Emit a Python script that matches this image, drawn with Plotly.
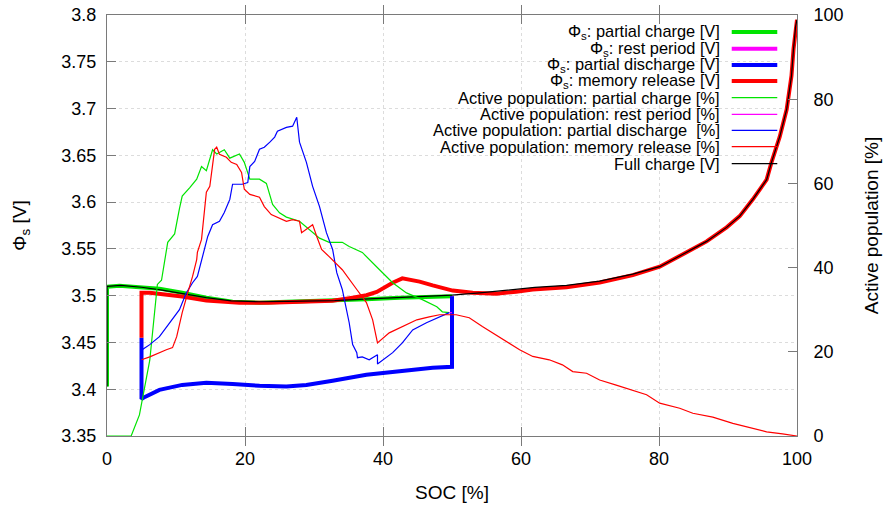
import plotly.graph_objects as go

# ---------------- data ----------------
# Phi_s partial charge [V]
pc_soc = [0, 0, 1.8, 4.7, 7.6, 10.9, 14.4, 18.2, 22.1, 26.0, 32.7, 37.6, 42.4, 47.2, 50.0]
pc_v = [3.403, 3.5096, 3.5107, 3.5096, 3.5075, 3.5032, 3.4979, 3.4936, 3.4925, 3.4936,
        3.4946, 3.4962, 3.4978, 3.4989, 3.4993]

# Phi_s rest period [V]
rp_soc = [50.0, 50.0]
rp_v = [3.4993, 3.4985]

# Phi_s partial discharge [V]
pd_soc = [50.0, 50.0, 47.2, 42.4, 37.6, 32.7, 28.9, 26.0, 22.1, 18.2, 14.4, 10.9, 7.6, 5.5, 5.0, 5.0]
pd_v = [3.4993, 3.4239, 3.4229, 3.4196, 3.4154, 3.4090, 3.4046, 3.4030, 3.4036, 3.4057,
        3.4068, 3.4046, 3.3993, 3.3918, 3.3896, 3.4550]

# Phi_s memory release [V]
mr_soc = [5.0, 5.0, 6.2, 10.9, 14.4, 19.2, 23.4, 27.9, 32.7, 35.6, 37.6, 39.1, 41.4, 42.8,
          45.3, 47.2, 50.1, 53.0, 56.4, 59.3, 61.7, 66.6, 71.4, 76.2, 80.1, 83.4, 86.9,
          89.8, 91.7, 93.6, 95.6, 96.3, 97.5, 98.5, 99.2, 99.5, 99.8, 100.0]
mr_v = [3.4550, 3.5032, 3.5032, 3.4990, 3.4947, 3.4925, 3.4925, 3.4936, 3.4946, 3.4979,
        3.5005, 3.5040, 3.5139, 3.5185, 3.5150, 3.5110, 3.5054, 3.5030, 3.5021, 3.5043,
        3.5065, 3.5090, 3.5140, 3.5220, 3.5310, 3.5440, 3.5580, 3.5730, 3.5850, 3.6030,
        3.6240, 3.6425, 3.6700, 3.6990, 3.7350, 3.7640, 3.7880, 3.7950]

# Active population: partial charge [%]
apc_soc = [0, 3.5, 4.7, 6.2, 7.3, 7.9, 8.8, 9.8, 10.5, 10.9, 12.0, 13.0, 13.7, 14.4, 15.3,
           15.9, 17.0, 17.8, 19.2, 19.9, 20.7, 22.1, 23.1, 24.0, 25.0, 26.0, 27.9, 29.3,
           30.8, 32.2, 34.1, 35.1, 37.0, 39.5, 41.4, 43.4, 45.7, 47.8, 48.6, 49.6]
apc_p = [0, 0, 5, 18, 36, 37, 46, 48, 54, 57, 59, 61, 64, 63, 68, 67, 68, 66, 67, 65, 61,
         61, 60, 55, 53, 52, 51, 49, 47, 46, 46, 45, 43.6, 39.5, 36.4, 34, 32.4, 30.7,
         29.5, 29.3]

# Active population: rest period [%]
arp_soc = [49.6, 50.0]
arp_p = [29.3, 29.3]

# Active population: partial discharge [%]
apd_soc = [49.6, 48.2, 46.3, 44.3, 42.8, 41.4, 39.9, 39.2, 39.2, 38.0, 37.0, 36.3, 36.2,
           35.6, 35.1, 34.7, 34.1, 33.3, 32.7, 31.8, 30.8, 29.8, 28.9, 27.9, 27.6, 27.5,
           26.9, 26.0, 24.7, 24.3, 23.6, 22.8, 22.1, 21.4, 20.7, 20.4, 19.6, 18.2, 17.8,
           17.0, 16.3, 15.3, 14.6, 13.8, 13.1, 12.4, 11.5, 10.5, 9.1, 7.6, 6.2, 5.1, 5.0]
apd_p = [29.3, 28.3, 26.9, 25.2, 22.1, 19.8, 18.1, 17.1, 19.3, 18.1, 18.8, 18.6, 19.8,
         21.7, 26.9, 30.0, 34.8, 38.8, 44.3, 48.3, 54.5, 59.3, 65.0, 69.8, 75.2, 75.7,
         73.6, 73.3, 72.4, 71.0, 69.8, 68.6, 68.1, 65.2, 64.0, 60.2, 59.8, 59.8, 56.2,
         53.1, 51.0, 50.2, 47.4, 42.6, 37.9, 36.4, 34.0, 30.0, 26.9, 23.6, 21.7, 20.5, 18.8]

# Active population: memory release [%]
amr_soc = [5.0, 6.2, 8.6, 9.5, 10.1, 10.9, 11.7, 12.4, 13.0, 13.1, 13.7, 14.4, 14.9, 15.6,
           15.9, 16.3, 17.3, 18.0, 18.8, 19.5, 19.9, 20.7, 22.1, 22.8, 23.8, 24.7, 26.0,
           26.9, 27.9, 28.2, 29.8, 30.4, 31.1, 32.2, 34.1, 36.2, 37.6, 38.5, 39.2, 40.9,
           42.8, 44.9, 46.7, 48.2, 50.6, 52.5, 54.4, 56.9, 58.3, 59.8, 61.7, 64.1, 66.0,
           67.5, 69.5, 71.4, 73.8, 76.2, 78.2, 80.1, 83.0, 84.9, 87.8, 90.7, 93.6, 95.6,
           97.9, 99.7, 100.0]
amr_p = [18.1, 18.8, 20.5, 21.0, 23.6, 29.3, 34.0, 37.9, 41.9, 43.6, 46.7, 57.9, 59.3,
         68.1, 68.6, 66.9, 66.2, 65.0, 64.5, 62.6, 58.6, 57.4, 56.7, 54.5, 52.6, 51.9,
         51.0, 51.4, 51.0, 48.3, 50.2, 47.4, 44.3, 42.6, 39.5, 34.8, 31.7, 27.6, 22.1,
         24.5, 26.0, 27.6, 28.3, 28.8, 28.8, 28.1, 26.0, 23.5, 22.1, 20.5, 18.9, 18.1,
         16.9, 15.3, 14.9, 13.3, 12.1, 10.8, 9.8, 7.8, 6.6, 5.4, 4.5, 3.0, 1.8, 1.0, 0.5,
         0.0, 0.0]

# Full charge [V]
fc_soc = [0, 0, 2, 5, 8, 11, 14.4, 18, 22, 26, 33, 38, 42, 47, 50, 54, 58, 62, 66.6,
          71.4, 76.2, 80.1, 83.4, 86.9, 89.8, 91.7, 93.6, 95.6, 96.3, 97.5, 98.5, 99.2,
          99.5, 99.8, 100]
fc_v = [3.403, 3.5100, 3.5110, 3.5090, 3.5060, 3.5020, 3.4980, 3.4945, 3.4935, 3.4940,
        3.4948, 3.4965, 3.4980, 3.4995, 3.5005, 3.5030, 3.5060, 3.5088, 3.5110, 3.5155,
        3.5230, 3.5310, 3.5440, 3.5580, 3.5730, 3.5850, 3.6030, 3.6240, 3.6425, 3.6700,
        3.6990, 3.7350, 3.7640, 3.7880, 3.7950]

x_ticks = [0, 20, 40, 60, 80, 100]
y_ticks = [3.35, 3.4, 3.45, 3.5, 3.55, 3.6, 3.65, 3.7, 3.75, 3.8]
y_tick_text = ["3.35", "3.4", "3.45", "3.5", "3.55", "3.6", "3.65", "3.7", "3.75", "3.8"]
y2_ticks = [0, 20, 40, 60, 80, 100]

legend_labels = [
    "Φ<sub>s</sub>: partial charge [V]",
    "Φ<sub>s</sub>: rest period [V]",
    "Φ<sub>s</sub>: partial discharge [V]",
    "Φ<sub>s</sub>: memory release [V]",
    "Active population: partial charge [%]",
    "Active population: rest period [%]",
    "Active population: partial discharge \u00a0[%]",
    "Active population: memory release [%]",
    "Full charge [V]",
]

# ---------------- styles ----------------
GREEN, MAGENTA, BLUE, RED, BLACK = "#00e400", "#ff00ff", "#0000ff", "#ff0000", "#000000"
FONT = "Liberation Sans, Arial, sans-serif"
AX = "#7a7a7a"
GRID = "#dcdcdc"

series = [
    (pc_soc, pc_v, "y", GREEN, 4),
    (rp_soc, rp_v, "y", MAGENTA, 4),
    (pd_soc, pd_v, "y", BLUE, 4),
    (mr_soc, mr_v, "y", RED, 4),
    (apc_soc, apc_p, "y2", GREEN, 1.2),
    (arp_soc, arp_p, "y2", MAGENTA, 1.2),
    (apd_soc, apd_p, "y2", BLUE, 1.2),
    (amr_soc, amr_p, "y2", RED, 1.2),
    (fc_soc, fc_v, "y", BLACK, 1.2),
]

fig = go.Figure()
for (xs, ys, ax, col, w), name in zip(series, legend_labels):
    fig.add_trace(go.Scatter(x=xs, y=ys, yaxis=ax, mode="lines", name=name,
                             line=dict(color=col, width=w), showlegend=False))

# gnuplot-style key: right-aligned text with line sample on the right
row_y_px = [32, 48.7, 65, 81, 97.7, 114.3, 130.3, 146.7, 163.7]
plot_top, plot_h = 15, 421
for (xs, ys, ax, col, w), name, py in zip(series, legend_labels, row_y_px):
    yp = 1 - (py - plot_top) / plot_h
    fig.add_annotation(xref="paper", yref="paper", x=0.8913, y=yp, text=name,
                       showarrow=False, xanchor="right", yanchor="middle",
                       font=dict(family=FONT, size=16.4, color="black"))
    fig.add_shape(type="line", xref="paper", yref="paper", x0=0.9054, x1=0.9714,
                  y0=yp, y1=yp, line=dict(color=col, width=w))

fig.update_layout(
    width=886, height=506,
    margin=dict(l=107, r=89, t=15, b=70, autoexpand=False),
    paper_bgcolor="white", plot_bgcolor="white",
    font=dict(family=FONT, size=18, color="black"),
    xaxis=dict(range=[0, 100], tickvals=x_ticks, ticks="inside", ticklen=9, tickcolor=AX,
               showline=True, linecolor=AX, linewidth=1, mirror="allticks",
               showgrid=True, gridcolor=GRID, griddash="dot", gridwidth=1,
               zeroline=False, ticklabelstandoff=6, automargin=False,
               ticklabeloverflow="allow",
               title=dict(text="SOC [%]", font=dict(size=19), standoff=18)),
    yaxis=dict(range=[3.35, 3.8], tickvals=y_ticks, ticktext=y_tick_text, ticks="inside",
               ticklen=9, tickcolor=AX, showline=True, linecolor=AX, linewidth=1,
               mirror=True, showgrid=True, gridcolor=GRID, griddash="dot",
               gridwidth=1, zeroline=False, ticklabelstandoff=6, automargin=False,
               ticklabeloverflow="allow",
               title=dict(text="Φ<sub>s</sub> [V]", font=dict(size=19), standoff=29)),
    yaxis2=dict(range=[0, 100], tickvals=y2_ticks, overlaying="y", side="right",
                ticks="inside", ticklen=9, tickcolor=AX, showline=True, linecolor=AX,
                linewidth=1, showgrid=False, zeroline=False, ticklabelstandoff=12,
                automargin=False, ticklabeloverflow="allow",
                title=dict(text="Active population [%]", font=dict(size=19), standoff=22)),
)

# remove the browser's default 8px body margin so the figure fills the window exactly
fig.write_html("out.html", config={"displayModeBar": False},
               post_script="document.body.style.margin='0';document.body.style.overflow='hidden';")
